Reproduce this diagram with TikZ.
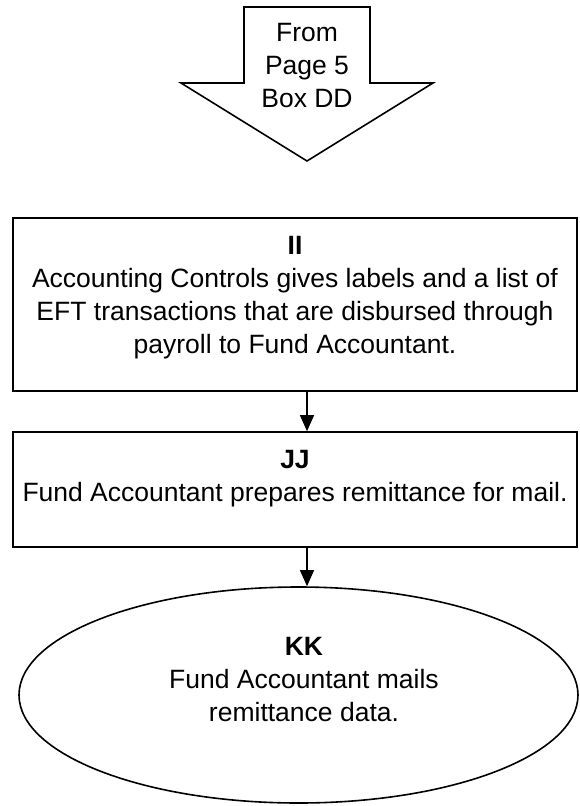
\documentclass[tikz,border=0pt]{standalone}
\usepackage{fontspec}
\setmainfont{Liberation Sans}
\usetikzlibrary{shapes.geometric,arrows.meta}
\begin{document}
\begin{tikzpicture}[x=1pt,y=-1pt,
  outline/.style={draw=black,line width=1.6pt},
  procbox/.style={outline,rectangle,minimum width=564pt,inner sep=0pt},
  lbl/.style={align=center,font=\fontsize{26.5pt}{33pt}\selectfont,inner sep=0pt},
  flow/.style={line width=1.2pt,-{Triangle[length=16pt,width=14pt]}}]
\useasboundingbox (0,0) rectangle (579,806);
\fill[white] (0,0) rectangle (579,806);
% off-page connector
\draw[outline,line join=miter] (244,7) -- (370,7) -- (370,83) -- (433,83) -- (307,161)
  -- (181,83) -- (244,83) -- cycle;
\node[lbl] (from) at (307,66) {From\\Page 5\\Box DD};
\coordinate (axis) at (307,0);
% box II
\node[procbox,minimum height=173pt] (ii) at (295,304.5) {};
\node[lbl,anchor=north] (iitext) at (295,236.5) {\textbf{II}\\Accounting Controls gives labels and a list of\\EFT transactions that are disbursed through\\payroll to Fund Accountant.};
% box JJ
\node[procbox,minimum height=115pt] (jj) at (295,489.5) {};
\node[lbl,anchor=north] (jjtext) at (295,450.5) {\textbf{JJ}\\Fund Accountant prepares remittance for mail.};
% ellipse KK
\node[outline,ellipse,minimum width=559pt,minimum height=216pt,inner sep=0pt] (kk) at (298.5,695) {};
\node[lbl] (kktext) at (304,680) {\textbf{KK}\\Fund Accountant mails\\remittance data.};
% connectors
\draw[flow] (ii.south -| axis) -- (jj.north -| axis);
\draw[flow] (jj.south -| axis) -- (kk.north -| axis);
\end{tikzpicture}
\end{document}
